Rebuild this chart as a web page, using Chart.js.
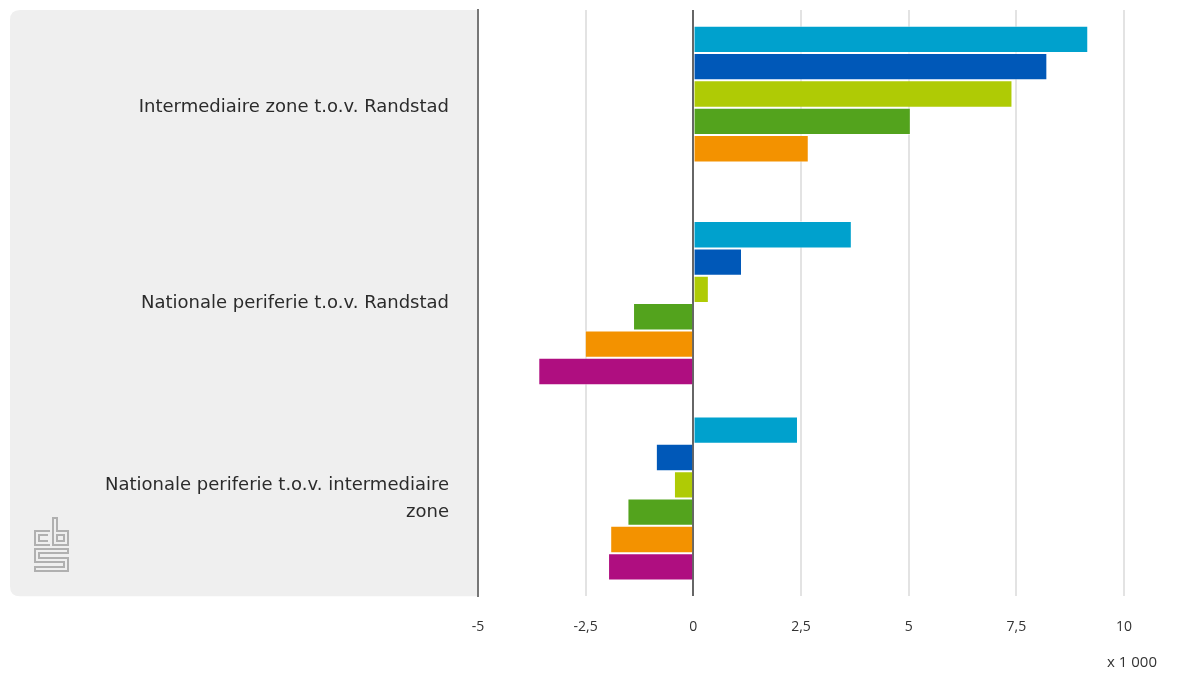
<!DOCTYPE html>
<html>
<head>
<meta charset="utf-8">
<script src="https://cdn.jsdelivr.net/npm/chart.js@4/dist/chart.umd.min.js"></script>
<style>
html,body{margin:0;padding:0;background:#fff;}
#wrap{width:1190px;height:673px;position:relative;}
</style>
</head>
<body>
<div id="wrap"><canvas id="c" width="1190" height="673"></canvas></div>
<script>
const categories = [
  "Intermediaire zone t.o.v. Randstad",
  "Nationale periferie t.o.v. Randstad",
  ["Nationale periferie t.o.v. intermediaire", "zone"]
];
const series1 = [9.17, 3.68, 2.43];
const series2 = [8.22, 1.13, -0.87];
const series3 = [7.41, 0.36, -0.45];
const series4 = [5.05, -1.40, -1.53];
const series5 = [2.68, -2.52, -1.93];
const series6 = [null, -3.60, -1.98];
const xTicks = [-5, -2.5, 0, 2.5, 5, 7.5, 10];
const unitLabel = "x 1 000";

const colors = ["#00a1cd", "#0058b8", "#afcb05", "#53a31d", "#f39200", "#af0e80"];
const allSeries = [series1, series2, series3, series4, series5, series6];

const FONT = "'Open Sans', 'Noto Sans', sans-serif";
const LABEL_FONT = "'DejaVu Sans', sans-serif";

const panelPlugin = {
  id: 'panel',
  beforeDraw(chart) {
    const ctx = chart.ctx, a = chart.chartArea;
    ctx.save();
    const x0 = 10, y0 = 10, x1 = a.left, y1 = a.bottom, r = 10;
    ctx.fillStyle = '#efefef';
    ctx.beginPath();
    ctx.moveTo(x0 + r, y0);
    ctx.lineTo(x1, y0);
    ctx.lineTo(x1, y1);
    ctx.lineTo(x0 + r, y1);
    ctx.quadraticCurveTo(x0, y1, x0, y1 - r);
    ctx.lineTo(x0, y0 + r);
    ctx.quadraticCurveTo(x0, y0, x0 + r, y0);
    ctx.fill();
    // CBS logo
    ctx.strokeStyle = '#b0b0b0';
    ctx.lineWidth = 2;
    const lx = 35, ly = 518;
    ctx.beginPath();
    ctx.moveTo(50, ly + 13); ctx.lineTo(lx, ly + 13); ctx.lineTo(lx, ly + 27); ctx.lineTo(50, ly + 27);
    ctx.moveTo(48, ly + 17); ctx.lineTo(39, ly + 17); ctx.lineTo(39, ly + 23); ctx.lineTo(48, ly + 23);
    ctx.moveTo(53, ly); ctx.lineTo(57, ly); ctx.lineTo(57, ly + 13); ctx.lineTo(68, ly + 13); ctx.lineTo(68, ly + 27); ctx.lineTo(53, ly + 27); ctx.closePath();
    ctx.moveTo(57, ly + 17); ctx.lineTo(64, ly + 17); ctx.lineTo(64, ly + 23); ctx.lineTo(57, ly + 23); ctx.closePath();
    ctx.moveTo(68, ly + 31); ctx.lineTo(lx, ly + 31); ctx.lineTo(lx, ly + 44); ctx.lineTo(64, ly + 44); ctx.lineTo(64, ly + 49); ctx.lineTo(lx, ly + 49); ctx.lineTo(lx, ly + 53); ctx.lineTo(68, ly + 53); ctx.lineTo(68, ly + 40); ctx.lineTo(39, ly + 40); ctx.lineTo(39, ly + 35); ctx.lineTo(68, ly + 35); ctx.closePath();
    ctx.stroke();
    ctx.restore();
  },
  afterDraw(chart) {
    const ctx = chart.ctx, a = chart.chartArea;
    ctx.save();
    ctx.fillStyle = '#333';
    ctx.font = "15px " + FONT;
    ctx.textAlign = 'right';
    ctx.textBaseline = 'middle';
    ctx.fillText(unitLabel, a.right + 33, 663);
    ctx.restore();
  }
};

new Chart(document.getElementById('c'), {
  type: 'bar',
  data: {
    labels: categories,
    datasets: allSeries.map((d, i) => ({
      label: 's' + (i + 1),
      data: d,
      backgroundColor: colors[i],
      borderColor: 'rgba(255,255,255,0.55)',
      borderWidth: 1,
      categoryPercentage: 0.84,
      barPercentage: 1.0
    }))
  },
  options: {
    indexAxis: 'y',
    responsive: false,
    animation: false,
    layout: { padding: { top: 10, right: 66, left: 10, bottom: 16 } },
    plugins: { legend: { display: false }, tooltip: { enabled: false } },
    scales: {
      x: {
        min: -5, max: 10,
        afterBuildTicks(axis) { axis.ticks = xTicks.map(v => ({ value: v })); },
        grid: {
          color: ctx => (ctx.tick && ctx.tick.value === 0) ? '#666' : (ctx.tick && ctx.tick.value === -5 ? 'rgba(0,0,0,0)' : '#e3e3e3'),
          lineWidth: 2,
          drawTicks: false
        },
        border: { display: false },
        ticks: {
          color: '#333',
          font: { family: FONT, size: 14 },
          padding: 22,
          callback: v => String(v).replace('.', ',')
        },
        afterFit(scale) { scale.paddingLeft = 0; scale.paddingRight = 0; }
      },
      y: {
        grid: { display: false },
        border: { display: true, color: '#777', width: 2 },
        ticks: {
          color: '#2b2b2b',
          font: { family: LABEL_FONT, size: 18, lineHeight: 1.5 },
          padding: 21
        },
        afterFit(scale) { scale.width = 468; scale.paddingTop = 0; scale.paddingBottom = 0; }
      }
    }
  },
  plugins: [panelPlugin]
});
</script>
</body>
</html>
